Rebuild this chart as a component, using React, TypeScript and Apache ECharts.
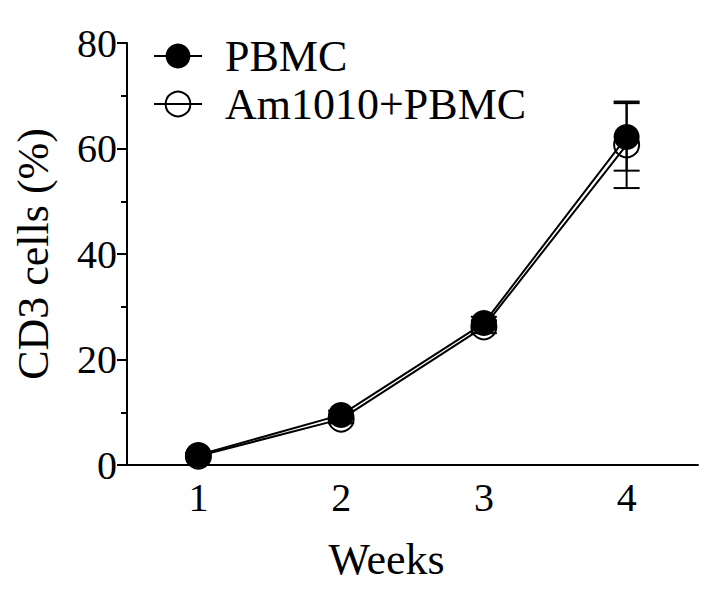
import React, { useEffect, useRef } from "react";
import * as echarts from "echarts";

const weeks = ["1", "2", "3", "4"];
const pbmc = [1.9, 9.5, 26.9, 62.2];
const pbmcErr = [0.4, 0.8, 1.2, 6.4];
const amPbmc = [1.7, 8.7, 26.2, 60.7];
const amPbmcErr = [0.4, 0.8, 1.2, 8.2];
const yTicks = [0, 20, 40, 60, 80];

const FONT = "'Liberation Serif', 'Times New Roman', serif";

export default function App() {
  const ref = useRef<HTMLDivElement>(null);
  useEffect(() => {
    if (!ref.current) return;
    const chart = echarts.init(ref.current, undefined, { renderer: "svg" });
    const errData = (vals: number[], errs: number[]) =>
      vals.map((v, i) => [i, v - errs[i], v + errs[i]]);
    const renderErr = (params: any, api: any) => {
      const x = api.value(0);
      const lo = api.coord([x, api.value(1)]);
      const hi = api.coord([x, api.value(2)]);
      const hw = 13;
      const st = { stroke: "#000", lineWidth: 2 };
      return {
        type: "group",
        children: [
          { type: "line", shape: { x1: hi[0], y1: hi[1], x2: lo[0], y2: lo[1] }, style: st },
          { type: "line", shape: { x1: hi[0] - hw, y1: hi[1], x2: hi[0] + hw, y2: hi[1] }, style: st },
          { type: "line", shape: { x1: lo[0] - hw, y1: lo[1], x2: lo[0] + hw, y2: lo[1] }, style: st },
        ],
      };
    };
    chart.setOption({
      animation: false,
      backgroundColor: "#fff",
      textStyle: { fontFamily: FONT, color: "#000" },
      grid: { left: 127, right: 10, top: 43, bottom: 128, containLabel: false, outerBoundsMode: "none" },
      legend: {
        orient: "vertical",
        left: 148,
        top: 29,
        itemWidth: 48,
        itemHeight: 31,
        itemGap: 4,
        data: ["PBMC", "Am1010+PBMC"],
        textStyle: { fontFamily: FONT, fontSize: 44, color: "#000", padding: [0, 0, 0, 18] },
      },
      xAxis: {
        type: "category",
        data: weeks,
        boundaryGap: true,
        name: "Weeks",
        nameLocation: "middle",
        nameGap: 72,
        nameTextStyle: { fontFamily: FONT, fontSize: 44, color: "#000", padding: [0, 52, 0, 0] },
        axisLine: { lineStyle: { color: "#000", width: 2 } },
        axisTick: { alignWithLabel: true, length: 10, lineStyle: { color: "#000", width: 2 } },
        axisLabel: { fontFamily: FONT, fontSize: 40, color: "#000", margin: 12 },
        splitLine: { show: false },
      },
      yAxis: {
        type: "value",
        min: 0,
        max: 80,
        interval: 20,
        name: "CD3 cells (%)",
        nameLocation: "middle",
        nameGap: 72,
        nameRotate: 90,
        nameTextStyle: { fontFamily: FONT, fontSize: 44, color: "#000" },
        axisLine: { show: true, lineStyle: { color: "#000", width: 2 } },
        axisTick: { show: true, length: 10, lineStyle: { color: "#000", width: 2 } },
        minorTick: { show: true, splitNumber: 2, length: 6, lineStyle: { color: "#000", width: 2 } },
        axisLabel: {
          fontFamily: FONT,
          fontSize: 40,
          color: "#000",
          margin: 10,
          formatter: (v: number) => (yTicks.includes(v) ? String(v) : ""),
        },
        splitLine: { show: false },
      },
      series: [
        {
          type: "custom",
          name: "errAm",
          renderItem: renderErr,
          data: errData(amPbmc, amPbmcErr),
          z: 1,
          silent: true,
        },
        {
          type: "custom",
          name: "errPbmc",
          renderItem: renderErr,
          data: errData(pbmc, pbmcErr),
          z: 1,
          silent: true,
        },
        {
          type: "line",
          name: "Am1010+PBMC",
          data: amPbmc,
          symbol: "circle",
          symbolSize: 25,
          showAllSymbol: true,
          lineStyle: { color: "#000", width: 2 },
          itemStyle: { color: "rgba(255,255,255,0)", borderColor: "#000", borderWidth: 2 },
          z: 2,
        },
        {
          type: "line",
          name: "PBMC",
          data: pbmc,
          symbol: "circle",
          symbolSize: 26,
          showAllSymbol: true,
          lineStyle: { color: "#000", width: 2 },
          itemStyle: { color: "#000" },
          z: 3,
        },
      ],
    });
    return () => chart.dispose();
  }, []);
  return (
    <div
      ref={ref}
      style={{ position: "fixed", left: 0, top: 0, width: 708, height: 593 }}
    />
  );
}
